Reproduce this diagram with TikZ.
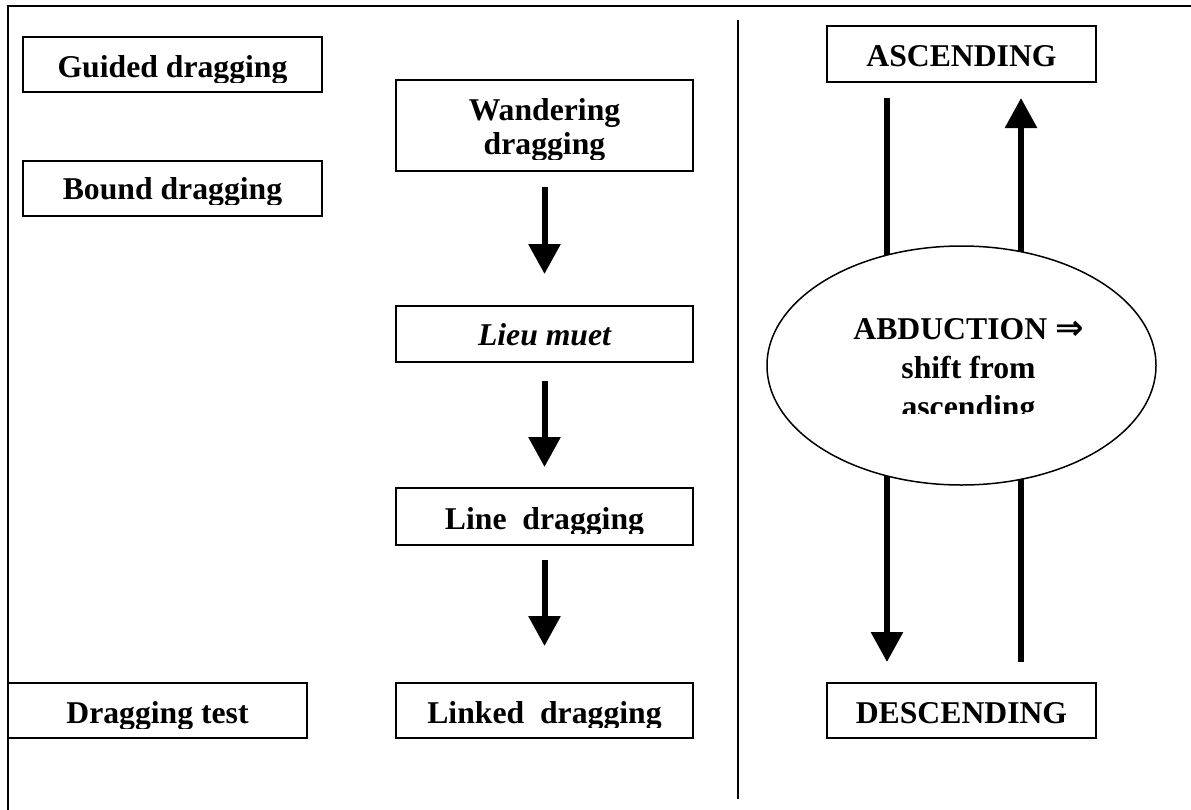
\documentclass[tikz,border=0pt]{standalone}
\usepackage{fontspec}
\setmainfont{Liberation Serif}
\newfontfamily\symfont{DejaVu Sans}
\usetikzlibrary{arrows.meta,shapes.geometric}
\begin{document}
\begin{tikzpicture}[x=0.5pt,y=-0.5pt,
  box/.style={draw,line width=1pt,inner sep=0pt},
  txt/.style={font=\bfseries\fontsize{15.85pt}{19pt}\selectfont,anchor=base,inner sep=0pt},
  thickarrow/.style={line width=3pt,-{Triangle[width=15.5pt,length=15pt]}},
  frameline/.style={line width=1pt}]
\useasboundingbox (0,0) rectangle (1191,810);
% frame
\coordinate (fbl) at (8,810);
\coordinate (ftl) at (8,6);
\coordinate (ftr) at (1191,6);
\draw[frameline] (fbl) -- (ftl) -- (ftr);
\coordinate (dtop) at (738,20);
\coordinate (dbot) at (738,799);
\draw[frameline] (dtop) -- (dbot);
% boxes
\node[box,minimum width=149.5pt,minimum height=27.5pt] (g) at (172.5,64.5) {};
\node[box,minimum width=149.5pt,minimum height=27.5pt] (b) at (172.5,188.5) {};
\node[box,minimum width=148.5pt,minimum height=45.5pt] (w) at (544.5,125.5) {};
\node[box,minimum width=148.5pt,minimum height=28pt] (l) at (544.5,334) {};
\node[box,minimum width=148.5pt,minimum height=28.5pt] (ld) at (544.5,516.5) {};
\node[box,minimum width=148.5pt,minimum height=27.5pt] (lk) at (544.5,710.5) {};
\node[box,minimum width=149.5pt,minimum height=27.5pt] (dt) at (157.5,710.5) {};
\node[box,minimum width=134.5pt,minimum height=28pt] (asc) at (961.5,54) {};
\node[box,minimum width=134.5pt,minimum height=27.5pt] (desc) at (961.5,710.5) {};
% texts (clipped as in the original text boxes)
\begin{scope}\clip (20,30) rectangle (330,82);
\node[txt] (gt) at (172.5,77) {Guided dragging};\end{scope}
\begin{scope}\clip (20,150) rectangle (330,204);
\node[txt] (bt) at (172.5,199) {Bound dragging};\end{scope}
\begin{scope}\clip (390,70) rectangle (700,159);
\node[txt] (wt1) at (544.5,120) {Wandering};
\node[txt] (wt2) at (544.5,154) {dragging};\end{scope}
\node[txt,font=\bfseries\itshape\fontsize{15.85pt}{19pt}\selectfont] (lt) at (544.5,345) {Lieu muet};
\begin{scope}\clip (390,480) rectangle (700,533);
\node[txt] (ldt) at (544.5,529) {Line\ \ dragging};\end{scope}
\begin{scope}\clip (390,675) rectangle (700,727);
\node[txt] (lkt) at (544.5,723) {Linked\ \ dragging};\end{scope}
\begin{scope}\clip (5,675) rectangle (320,728);
\node[txt] (dtt) at (157.5,723) {Dragging test};\end{scope}
\node[txt] (asct) at (961.5,66) {ASCENDING};
\node[txt] (desct) at (961.5,723) {DESCENDING};
% middle column arrows
\draw[thickarrow] ([yshift=-7.5pt]w.south) -- ([yshift=15.5pt]l.north);
\draw[thickarrow] ([yshift=-9pt]l.south) -- ([yshift=10pt]ld.north);
\draw[thickarrow] ([yshift=-7pt]ld.south) -- ([yshift=18pt]lk.north);
% right column arrows
\draw[thickarrow] ([xshift=-37.25pt,yshift=-7.5pt]asc.south) -- ([xshift=-37.25pt,yshift=10pt]desc.north);
\draw[thickarrow] ([xshift=29.75pt,yshift=10pt]desc.north) -- ([xshift=29.75pt,yshift=-7.5pt]asc.south);
% ellipse
\node[ellipse,draw,fill=white,line width=0.75pt,minimum width=194.5pt,minimum height=119.5pt,inner sep=0pt] (ab) at (961.5,365.5) {};
\node[txt] (abt1) at (968.5,339) {ABDUCTION {\symfont\bfseries\fontsize{17pt}{19pt}\selectfont ⇒}};
\node[txt] (abt2) at (968.5,378) {shift from};
\begin{scope}\clip (800,390) rectangle (1120,413);
\node[txt] (abt3) at (968.5,417) {ascending};\end{scope}
\end{tikzpicture}
\end{document}
